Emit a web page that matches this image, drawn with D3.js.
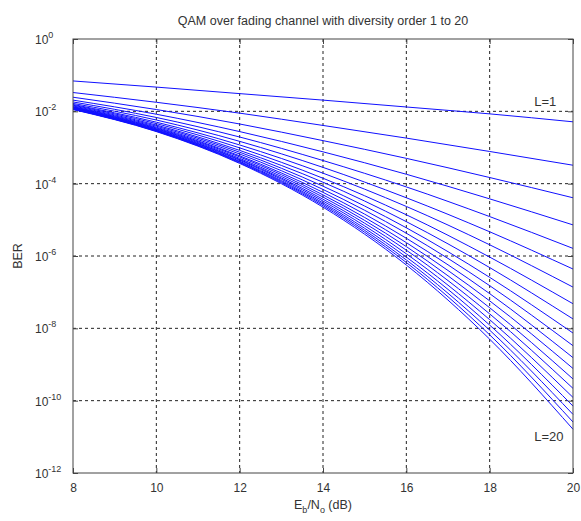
<!DOCTYPE html>
<html>
<head>
<meta charset="utf-8">
<script src="https://cdn.jsdelivr.net/npm/d3@7"></script>
<style>
  body { margin: 0; background: #fff; }
  svg text { font-family: "Liberation Sans", Arial, sans-serif; fill: #333; }
</style>
</head>
<body>
<div id="chart"></div>
<script>
// Eb/N0 sample points (dB)
const ebno = [8, 10, 12, 14, 16, 18, 20];

// log10(BER) for diversity order L = 1 .. 20
const logBer = [
  [-1.16, -1.33, -1.51, -1.69, -1.88, -2.07, -2.29],
  [-1.48, -1.75, -2.05, -2.39, -2.74, -3.11, -3.49],
  [-1.61, -1.95, -2.35, -2.81, -3.30, -3.83, -4.39],
  [-1.69, -2.08, -2.56, -3.12, -3.74, -4.42, -5.14],
  [-1.74, -2.17, -2.71, -3.36, -4.09, -4.91, -5.79],
  [-1.78, -2.24, -2.83, -3.55, -4.39, -5.33, -6.36],
  [-1.81, -2.30, -2.93, -3.71, -4.63, -5.69, -6.86],
  [-1.83, -2.34, -3.01, -3.85, -4.86, -6.03, -7.32],
  [-1.85, -2.38, -3.08, -3.96, -5.05, -6.32, -7.74],
  [-1.87, -2.41, -3.13, -4.07, -5.22, -6.59, -8.13],
  [-1.88, -2.44, -3.18, -4.16, -5.37, -6.82, -8.48],
  [-1.89, -2.46, -3.23, -4.24, -5.51, -7.04, -8.81],
  [-1.90, -2.48, -3.26, -4.31, -5.63, -7.24, -9.11],
  [-1.91, -2.49, -3.30, -4.37, -5.74, -7.43, -9.40],
  [-1.92, -2.51, -3.33, -4.43, -5.84, -7.60, -9.66],
  [-1.93, -2.52, -3.35, -4.48, -5.94, -7.76, -9.91],
  [-1.93, -2.53, -3.38, -4.53, -6.03, -7.91, -10.15],
  [-1.94, -2.54, -3.40, -4.57, -6.11, -8.05, -10.38],
  [-1.94, -2.55, -3.42, -4.61, -6.18, -8.18, -10.59],
  [-1.95, -2.56, -3.44, -4.65, -6.25, -8.30, -10.79]
];

// tick values
const xTicks = [8, 10, 12, 14, 16, 18, 20];
const yExps = [0, -2, -4, -6, -8, -10, -12];

const titleText = "QAM over fading channel with diversity order 1 to 20";

const W = 581, H = 521;
const margin = {top: 39, right: 8, bottom: 48, left: 73};
const width = W - margin.left - margin.right,
      height = H - margin.top - margin.bottom;

const svg = d3.select("#chart").append("svg")
    .attr("width", W)
    .attr("height", H);

const g = svg.append("g")
    .attr("transform", "translate(" + margin.left + "," + margin.top + ")");

const x = d3.scaleLinear().domain([8, 20]).range([0, width]);
const y = d3.scaleLog().domain([1e-12, 1]).range([height, 0]);

// grid
g.append("g").selectAll("line")
    .data(xTicks.slice(1, -1))
    .enter().append("line")
    .attr("x1", d => x(d)).attr("x2", d => x(d))
    .attr("y1", 0).attr("y2", height)
    .attr("stroke", "#222").attr("stroke-dasharray", "3,3");

g.append("g").selectAll("line")
    .data(yExps.slice(1, -1))
    .enter().append("line")
    .attr("x1", 0).attr("x2", width)
    .attr("y1", d => y(Math.pow(10, d))).attr("y2", d => y(Math.pow(10, d)))
    .attr("stroke", "#222").attr("stroke-dasharray", "3,3");

// curves
const line = d3.line()
    .x((d, i) => x(ebno[i]))
    .y(d => y(Math.pow(10, d)))
    .curve(d3.curveMonotoneX);

g.append("g").selectAll("path")
    .data(logBer)
    .enter().append("path")
    .attr("d", line)
    .attr("fill", "none")
    .attr("stroke", "#1010ff")
    .attr("stroke-width", 1);

// axes with inward ticks
const xAxis = g.append("g")
    .attr("transform", "translate(0," + height + ")")
    .call(d3.axisBottom(x).tickValues(xTicks).tickSize(-5).tickPadding(10).tickFormat(d3.format("d")));
g.append("g")
    .call(d3.axisTop(x).tickValues(xTicks).tickSize(-5).tickFormat(""));

const yAxis = g.append("g")
    .call(d3.axisLeft(y).tickValues(yExps.map(e => Math.pow(10, e))).tickSize(-5).tickFormat(""));
g.append("g")
    .attr("transform", "translate(" + width + ",0)")
    .call(d3.axisRight(y).tickValues(yExps.map(e => Math.pow(10, e))).tickSize(-5).tickFormat(""));

g.selectAll(".domain").remove();
g.selectAll(".tick line").attr("stroke", "#444");
xAxis.selectAll("text").attr("font-size", 12).attr("fill", "#333");

// y tick labels 10^n, left aligned
const yLab = g.append("g").selectAll("text")
    .data(yExps)
    .enter().append("text")
    .attr("x", -38)
    .attr("y", d => y(Math.pow(10, d)) + 5)
    .attr("font-size", 12);
yLab.append("tspan").text("10");
yLab.append("tspan").attr("dy", -6).attr("font-size", 9).text(d => d);

// box
g.append("rect")
    .attr("width", width).attr("height", height)
    .attr("fill", "none").attr("stroke", "#444").attr("stroke-width", 1);

// annotations
g.append("text").attr("x", x(19.07)).attr("y", y(Math.pow(10, -1.85)))
    .attr("font-size", 13).text("L=1");
g.append("text").attr("x", x(19.07)).attr("y", y(Math.pow(10, -11.12)))
    .attr("font-size", 13).text("L=20");

// title
svg.append("text")
    .attr("x", margin.left + width / 2).attr("y", 25)
    .attr("text-anchor", "middle").attr("font-size", 12.5)
    .text(titleText);

// x label E_b/N_o (dB)
const xl = svg.append("text")
    .attr("x", margin.left + width / 2).attr("y", 509)
    .attr("text-anchor", "middle").attr("font-size", 12.5);
xl.append("tspan").text("E");
xl.append("tspan").attr("dy", 4).attr("font-size", 9).text("b");
xl.append("tspan").attr("dy", -4).text("/N");
xl.append("tspan").attr("dy", 4).attr("font-size", 9).text("o");
xl.append("tspan").attr("dy", -4).text(" (dB)");

// y label
svg.append("text")
    .attr("transform", "translate(22," + (margin.top + height / 2) + ") rotate(-90)")
    .attr("text-anchor", "middle").attr("font-size", 12.5)
    .text("BER");
</script>
</body>
</html>
